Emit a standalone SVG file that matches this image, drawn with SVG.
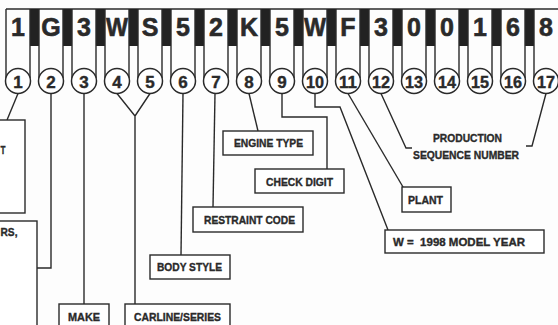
<svg xmlns="http://www.w3.org/2000/svg" width="558" height="325" viewBox="0 0 558 325">
<defs>
<style>
.bg{fill:#fdfdfd}
.bar{fill:#222}
.ol{stroke:#2a2a2a;stroke-width:1.4;fill:none}
.circ{stroke:#2a2a2a;stroke-width:1.5;fill:#fff}
.big{font-family:"Liberation Sans",Arial,sans-serif;font-weight:bold;font-size:25px;fill:#2a2a2a;stroke:#2a2a2a;stroke-width:0.6;text-anchor:middle}
.num{font-family:"Liberation Sans",Arial,sans-serif;font-weight:bold;font-size:17px;fill:#2a2a2a;stroke:#2a2a2a;stroke-width:0.4;text-anchor:middle}
.box{stroke:#2a2a2a;stroke-width:1.4;fill:#fff}
.lbl{font-family:"Liberation Sans",Arial,sans-serif;font-weight:bold;font-size:11px;fill:#2a2a2a;stroke:#2a2a2a;stroke-width:0.35}
.conn{stroke:#2a2a2a;stroke-width:1.4;fill:none}
</style>
</defs>
<rect class="bg" x="0" y="0" width="558" height="325"/>

<g id="vin-strip">
<line class="ol" x1="6" y1="9" x2="558" y2="9"/>
<rect class="bar" x="30" y="9" width="9" height="37"/>
<rect class="bar" x="63" y="9" width="9" height="37"/>
<rect class="bar" x="96" y="9" width="9" height="37"/>
<rect class="bar" x="129" y="9" width="9" height="37"/>
<rect class="bar" x="162" y="9" width="9" height="37"/>
<rect class="bar" x="195" y="9" width="9" height="37"/>
<rect class="bar" x="228" y="9" width="9" height="37"/>
<rect class="bar" x="261" y="9" width="9" height="37"/>
<rect class="bar" x="294" y="9" width="9" height="37"/>
<rect class="bar" x="327" y="9" width="9" height="37"/>
<rect class="bar" x="360" y="9" width="9" height="37"/>
<rect class="bar" x="393" y="9" width="9" height="37"/>
<rect class="bar" x="426" y="9" width="9" height="37"/>
<rect class="bar" x="459" y="9" width="9" height="37"/>
<rect class="bar" x="492" y="9" width="9" height="37"/>
<rect class="bar" x="525" y="9" width="9" height="37"/>
<path class="ol" d="M6 9V78M30 9V78M39 9V78M63 9V78M72 9V78M96 9V78M105 9V78M129 9V78M138 9V78M162 9V78M171 9V78M195 9V78M204 9V78M228 9V78M237 9V78M261 9V78M270 9V78M294 9V78M303 9V78M327 9V78M336 9V78M360 9V78M369 9V78M393 9V78M402 9V78M426 9V78M435 9V78M459 9V78M468 9V78M492 9V78M501 9V78M525 9V78M534 9V78"/>
<text class="big" x="18" y="36">1</text>
<text class="big" x="51" y="36">G</text>
<text class="big" x="84" y="36">3</text>
<text class="big" x="117" y="36" textLength="22" lengthAdjust="spacingAndGlyphs">W</text>
<text class="big" x="150" y="36">S</text>
<text class="big" x="183" y="36">5</text>
<text class="big" x="216" y="36">2</text>
<text class="big" x="249" y="36">K</text>
<text class="big" x="282" y="36">5</text>
<text class="big" x="315" y="36" textLength="22" lengthAdjust="spacingAndGlyphs">W</text>
<text class="big" x="348" y="36">F</text>
<text class="big" x="381" y="36">3</text>
<text class="big" x="414" y="36">0</text>
<text class="big" x="447" y="36">0</text>
<text class="big" x="480" y="36">1</text>
<text class="big" x="513" y="36">6</text>
<text class="big" x="546" y="36">8</text>
</g>

<g id="position-circles">
<circle class="circ" cx="18" cy="81" r="12.5"/><text class="num" x="18" y="87.5">1</text>
<circle class="circ" cx="51" cy="81" r="12.5"/><text class="num" x="51" y="87.5">2</text>
<circle class="circ" cx="84" cy="81" r="12.5"/><text class="num" x="84" y="87.5">3</text>
<circle class="circ" cx="117" cy="81" r="12.5"/><text class="num" x="117" y="87.5">4</text>
<circle class="circ" cx="150" cy="81" r="12.5"/><text class="num" x="150" y="87.5">5</text>
<circle class="circ" cx="183" cy="81" r="12.5"/><text class="num" x="183" y="87.5">6</text>
<circle class="circ" cx="216" cy="81" r="12.5"/><text class="num" x="216" y="87.5">7</text>
<circle class="circ" cx="249" cy="81" r="12.5"/><text class="num" x="249" y="87.5">8</text>
<circle class="circ" cx="282" cy="81" r="12.5"/><text class="num" x="282" y="87.5">9</text>
<circle class="circ" cx="315" cy="81" r="12.5"/><text class="num" x="315" y="87.5" textLength="18" lengthAdjust="spacingAndGlyphs">10</text>
<circle class="circ" cx="348" cy="81" r="12.5"/><text class="num" x="348" y="87.5" textLength="18" lengthAdjust="spacingAndGlyphs">11</text>
<circle class="circ" cx="381" cy="81" r="12.5"/><text class="num" x="381" y="87.5" textLength="18" lengthAdjust="spacingAndGlyphs">12</text>
<circle class="circ" cx="414" cy="81" r="12.5"/><text class="num" x="414" y="87.5" textLength="18" lengthAdjust="spacingAndGlyphs">13</text>
<circle class="circ" cx="447" cy="81" r="12.5"/><text class="num" x="447" y="87.5" textLength="18" lengthAdjust="spacingAndGlyphs">14</text>
<circle class="circ" cx="480" cy="81" r="12.5"/><text class="num" x="480" y="87.5" textLength="18" lengthAdjust="spacingAndGlyphs">15</text>
<circle class="circ" cx="513" cy="81" r="12.5"/><text class="num" x="513" y="87.5" textLength="18" lengthAdjust="spacingAndGlyphs">16</text>
<circle class="circ" cx="546" cy="81" r="12.5"/><text class="num" x="546" y="87.5" textLength="18" lengthAdjust="spacingAndGlyphs">17</text>
</g>

<g id="connectors">
<path class="conn" d="M18 93.5L7 120"/>
<path class="conn" d="M51 93.5V268H37"/>
<path class="conn" d="M84 93.5V304"/>
<path class="conn" d="M117 93.5L135 116L150 93.5M135 116V304"/>
<path class="conn" d="M183 93.5L181 255"/>
<path class="conn" d="M215 93.5L213 207"/>
<path class="conn" d="M249 93.5L258 131"/>
<path class="conn" d="M282 93.5V117H327V169"/>
<path class="conn" d="M315 93.5V107H340L388 230"/>
<path class="conn" d="M348 93.5L403 187"/>
<path class="conn" d="M381 93.5L406 148H412"/>
<path class="conn" d="M546 93.5L532 146H526"/>
</g>

<g id="origin">
<rect class="box" x="-10" y="120" width="35" height="93"/>
<text class="lbl" x="0.5" y="154" textLength="5" lengthAdjust="spacingAndGlyphs">T</text>
</g>
<g id="manufacturer">
<rect class="box" x="-10" y="221" width="47" height="120"/>
<text class="lbl" x="0.5" y="236" textLength="17" lengthAdjust="spacingAndGlyphs">RS,</text>
</g>
<g id="make">
<rect class="box" x="59" y="304" width="50" height="40"/>
<text class="lbl" x="68" y="321" textLength="32" lengthAdjust="spacingAndGlyphs">MAKE</text>
</g>
<g id="carline">
<rect class="box" x="125" y="304" width="105" height="40"/>
<text class="lbl" x="134" y="321" textLength="87" lengthAdjust="spacingAndGlyphs">CARLINE/SERIES</text>
</g>
<g id="body-style">
<rect class="box" x="150" y="255" width="80" height="24"/>
<text class="lbl" x="157" y="271" textLength="65" lengthAdjust="spacingAndGlyphs">BODY STYLE</text>
</g>
<g id="restraint-code">
<rect class="box" x="193" y="207" width="110" height="25"/>
<text class="lbl" x="204" y="224" textLength="91" lengthAdjust="spacingAndGlyphs">RESTRAINT CODE</text>
</g>
<g id="engine-type">
<rect class="box" x="223" y="131" width="90" height="24"/>
<text class="lbl" x="234" y="147" textLength="69" lengthAdjust="spacingAndGlyphs">ENGINE TYPE</text>
</g>
<g id="check-digit">
<rect class="box" x="255" y="169" width="89" height="24"/>
<text class="lbl" x="266" y="186" textLength="67" lengthAdjust="spacingAndGlyphs">CHECK DIGIT</text>
</g>
<g id="plant">
<rect class="box" x="402" y="187" width="49" height="25"/>
<text class="lbl" x="408" y="204" textLength="35" lengthAdjust="spacingAndGlyphs">PLANT</text>
</g>
<g id="model-year">
<rect class="box" x="385" y="230" width="159" height="23"/>
<text class="lbl" x="393" y="246" textLength="132" lengthAdjust="spacingAndGlyphs" xml:space="preserve">W =  1998 MODEL YEAR</text>
</g>
<g id="production-sequence">
<text class="lbl" x="433" y="142" textLength="69" lengthAdjust="spacingAndGlyphs">PRODUCTION</text>
<text class="lbl" x="413" y="159" textLength="106" lengthAdjust="spacingAndGlyphs">SEQUENCE NUMBER</text>
</g>
</svg>
